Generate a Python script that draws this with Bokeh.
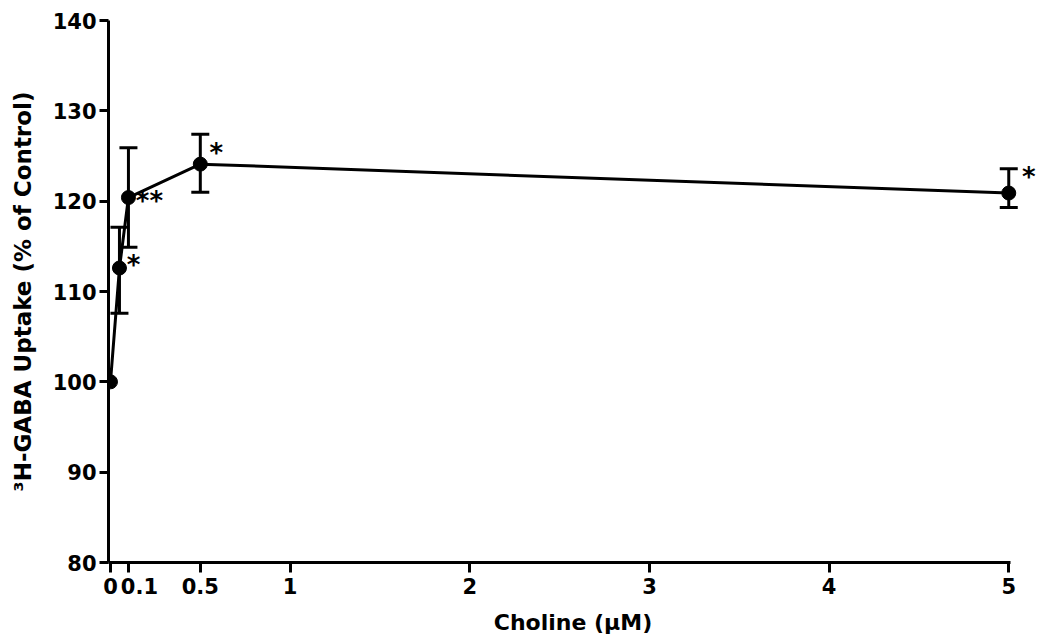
from bokeh.plotting import figure
from bokeh.models import ColumnDataSource, Whisker, TeeHead, FixedTicker, Range1d
from bokeh.core.properties import value
from bokeh.embed import file_html
from bokeh.resources import INLINE

# ---- data ----
choline = [0, 0.05, 0.1, 0.5, 5]
uptake = [100, 112.6, 120.4, 124.1, 120.9]
err_x = [0.05, 0.1, 0.5, 5]
err_upper = [117.1, 125.9, 127.4, 123.6]
err_lower = [107.6, 114.9, 121.0, 119.3]
sig_x = [0.05, 0.1, 0.5, 5]
sig_y = [112.6, 120.4, 124.1, 120.9]
sig_text = ["*", "**", "*", "*"]
x_ticks = [0, 0.1, 0.5, 1, 2, 3, 4, 5]
x_tick_labels = ["0", "\u00a0\u00a0\u00a00.1", "0.5", "1", "2", "3", "4", "5"]
y_ticks = [80, 90, 100, 110, 120, 130, 140]

FONT = "DejaVu Sans"
X_START = -0.011

p = figure(width=1037, height=640, output_backend="svg", toolbar_location=None,
           x_range=Range1d(X_START, 5.16), y_range=Range1d(80, 140),
           min_border_left=108, min_border_right=0, min_border_top=20, min_border_bottom=78)
p.outline_line_color = None
p.grid.visible = False
p.background_fill_color = "white"
p.border_fill_color = "white"

# axes
for ax in (p.xaxis[0], p.yaxis[0]):
    ax.axis_line_width = 3
    ax.axis_line_color = "black"
    ax.major_tick_line_width = 3
    ax.major_tick_line_color = "black"
    ax.minor_tick_line_color = None
    ax.major_tick_in = 0
    ax.major_label_text_font = FONT
    ax.major_label_text_font_style = "bold"
    ax.major_label_text_font_size = "21px"
    ax.major_label_text_color = "black"
    ax.axis_label_text_font = FONT
    ax.axis_label_text_font_style = "bold"
    ax.axis_label_text_color = "black"

p.xaxis.bounds = (X_START, 5.012)
p.xaxis.ticker = FixedTicker(ticks=x_ticks)
p.xaxis.major_label_overrides = {t: l for t, l in zip(x_ticks, x_tick_labels)}
p.xaxis.major_tick_out = 10
p.xaxis.major_label_standoff = 2
p.xaxis.axis_label = "Choline (\u03bcM)"
p.xaxis.axis_label_text_font_size = "22px"
p.xaxis.axis_label_standoff = 8

p.yaxis.ticker = FixedTicker(ticks=y_ticks)
p.yaxis.major_tick_out = 9
p.yaxis.major_label_standoff = 3
p.yaxis.axis_label = "\u00b3H-GABA Uptake (% of Control)"
p.yaxis.axis_label_text_font_size = "23px"
p.yaxis.axis_label_standoff = 14

# error bars
esrc = ColumnDataSource(dict(x=err_x, upper=err_upper, lower=err_lower))
p.add_layout(Whisker(source=esrc, base="x", upper="upper", lower="lower",
                     line_width=3, line_color="black",
                     upper_head=TeeHead(size=18, line_width=3, line_color="black"),
                     lower_head=TeeHead(size=18, line_width=3, line_color="black")))

# line and points
src = ColumnDataSource(dict(x=choline, y=uptake))
p.line("x", "y", source=src, line_width=3, line_color="black")
p.scatter("x", "y", source=src, size=14, marker="circle", fill_color="black", line_color="black")

# significance marks
x_off = [14, 21, 16, 20]
y_off = [-3, 3, -11, -16]
ssrc = ColumnDataSource(dict(x=sig_x, y=sig_y, t=sig_text, xo=x_off, yo=y_off))
p.text("x", "y", text="t", source=ssrc, x_offset="xo", y_offset="yo",
       text_font=value(FONT), text_font_style="bold", text_font_size="26px",
       text_align="center", text_baseline="middle", text_color="black")

open("out.html", "w").write(file_html(p, INLINE))
